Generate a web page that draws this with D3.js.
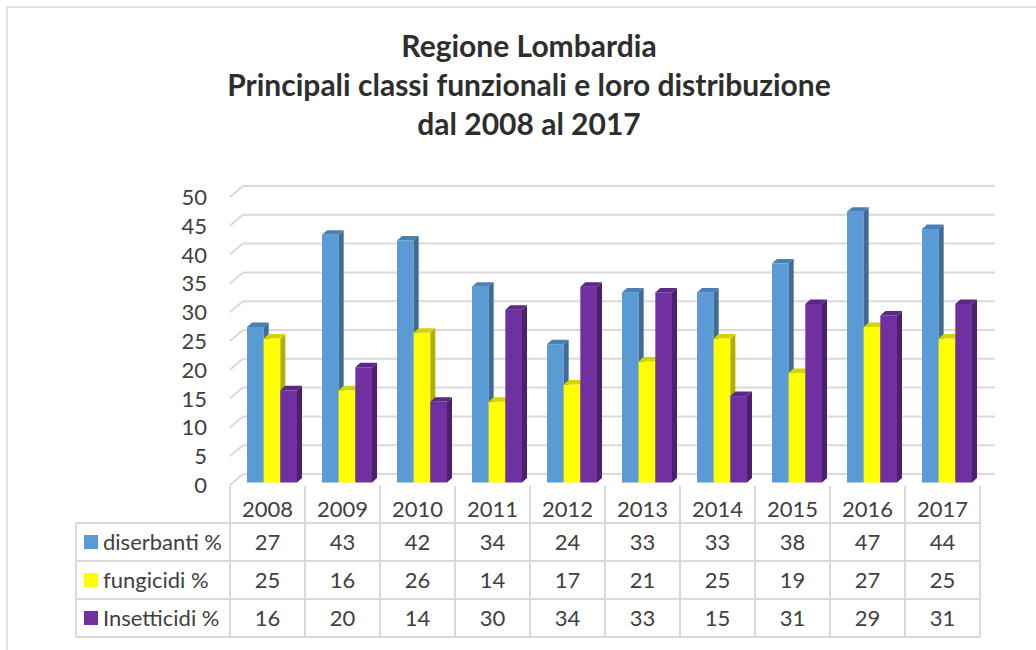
<!DOCTYPE html>
<html>
<head>
<meta charset="utf-8">
<script src="https://cdn.jsdelivr.net/npm/d3@7"></script>
<style>
  html, body { margin: 0; padding: 0; background: #fff; }
  svg { display: block; font-family: Lato, "Open Sans", sans-serif; }
</style>
</head>
<body>
<svg id="chart" width="1036" height="650"></svg>
<script>
const titleLines = ["Regione Lombardia", "Principali classi funzionali e loro distribuzione", "dal 2008 al 2017"];
const years = ["2008", "2009", "2010", "2011", "2012", "2013", "2014", "2015", "2016", "2017"];
const seriesNames = ["diserbanti %", "fungicidi %", "Insetticidi %"];
const diserbanti = [27, 43, 42, 34, 24, 33, 33, 38, 47, 44];
const fungicidi = [25, 16, 26, 14, 17, 21, 25, 19, 27, 25];
const insetticidi = [16, 20, 14, 30, 34, 33, 15, 31, 29, 31];
const yTicks = [0, 5, 10, 15, 20, 25, 30, 35, 40, 45, 50];

const seriesValues = [diserbanti, fungicidi, insetticidi];
const frontColors = ["#5B9BD5", "#FFFF00", "#7030A0"];
const sideColors = ["#3E6C96", "#B0B000", "#4C206E"];
const topColors = ["#4A80B4", "#D4D400", "#5C2888"];

const svg = d3.select("#chart");
const textColor = "#404040";
const gridColor = "#D9D9D9";
const fs = 22;

// outer border
svg.append("rect").attr("x", 7).attr("y", 7).attr("width", 1040).attr("height", 660)
  .attr("fill", "none").attr("stroke", gridColor).attr("stroke-width", 1.5);

// title
svg.append("g").selectAll("text").data(titleLines).join("text")
  .attr("x", 529).attr("y", (d, i) => 57 + i * 39)
  .attr("text-anchor", "middle").attr("font-size", 30).attr("font-weight", "bold")
  .attr("fill", "#2E2E2E").text(d => d);

// scales
const x = d3.scaleBand().domain(years).range([230, 980]).paddingInner(0).paddingOuter(0);
const y = d3.scaleLinear().domain([0, 50]).range([485, 197]);
const xSub = d3.scaleBand().domain(seriesNames).range([0, 50]);

const wallDx = 13, wallDy = -11;
const barOffX = 17, barOffY = -2.5;
const depthX = 5, depthY = -4.5;

// gridlines (back wall + left diagonals)
const grid = svg.append("g").attr("stroke", gridColor).attr("stroke-width", 2).attr("fill", "none");
yTicks.forEach(t => {
  grid.append("line")
    .attr("x1", 230 + wallDx).attr("x2", 995)
    .attr("y1", y(t) + wallDy).attr("y2", y(t) + wallDy);
  grid.append("line")
    .attr("x1", 230).attr("x2", 230 + wallDx)
    .attr("y1", y(t)).attr("y2", y(t) + wallDy);
});

// y axis labels
svg.append("g").selectAll("text").data(yTicks).join("text")
  .attr("x", 207).attr("y", d => y(d) + 8)
  .attr("text-anchor", "end").attr("font-size", fs).attr("fill", textColor)
  .text(d => d);

// bars
const bars = svg.append("g");
years.forEach((yr, i) => {
  seriesNames.forEach((s, j) => {
    const v = seriesValues[j][i];
    const x0 = x(yr) + barOffX + xSub(s);
    const w = xSub.bandwidth();
    const x1 = x0 + w;
    const yb = y(0) + barOffY;
    const yt = y(v) + barOffY;
    bars.append("rect").attr("x", x0).attr("y", yt).attr("width", w).attr("height", yb - yt)
      .attr("fill", frontColors[j]);
    bars.append("path")
      .attr("d", `M${x1},${yt}L${x1 + depthX},${yt + depthY}L${x1 + depthX},${yb + depthY}L${x1},${yb}Z`)
      .attr("fill", sideColors[j]);
    bars.append("path")
      .attr("d", `M${x0},${yt}L${x0 + depthX},${yt + depthY}L${x1 + depthX},${yt + depthY}L${x1},${yt}Z`)
      .attr("fill", topColors[j]);
  });
});

// data table
const rowTop = 523, rowH = 38, headerTop = 486;
const table = svg.append("g").attr("stroke", gridColor).attr("stroke-width", 2);
d3.range(years.length + 1).forEach(k => {
  const xx = k < years.length ? x(years[k]) : x.range()[1];
  table.append("line").attr("x1", xx).attr("x2", xx).attr("y1", headerTop).attr("y2", rowTop + 3 * rowH);
});
table.append("line").attr("x1", 76).attr("x2", 76).attr("y1", rowTop).attr("y2", rowTop + 3 * rowH);
d3.range(4).forEach(r => {
  table.append("line").attr("x1", 76).attr("x2", 980)
    .attr("y1", rowTop + r * rowH).attr("y2", rowTop + r * rowH);
});

// header years
svg.append("g").selectAll("text").data(years).join("text")
  .attr("x", d => x(d) + x.bandwidth() / 2).attr("y", 517)
  .attr("text-anchor", "middle").attr("font-size", fs).attr("fill", textColor)
  .text(d => d);

// rows
seriesNames.forEach((s, j) => {
  const cy = rowTop + j * rowH + rowH / 2;
  svg.append("rect").attr("x", 84).attr("y", cy - 7).attr("width", 14).attr("height", 14)
    .attr("fill", frontColors[j]);
  svg.append("text").attr("x", 103).attr("y", cy + 7.5).attr("font-size", fs)
    .attr("fill", textColor).text(s);
  svg.append("g").selectAll("text").data(seriesValues[j]).join("text")
    .attr("x", (d, i) => x(years[i]) + x.bandwidth() / 2).attr("y", cy + 7.5)
    .attr("text-anchor", "middle").attr("font-size", fs).attr("fill", textColor)
    .text(d => d);
});
</script>
</body>
</html>
